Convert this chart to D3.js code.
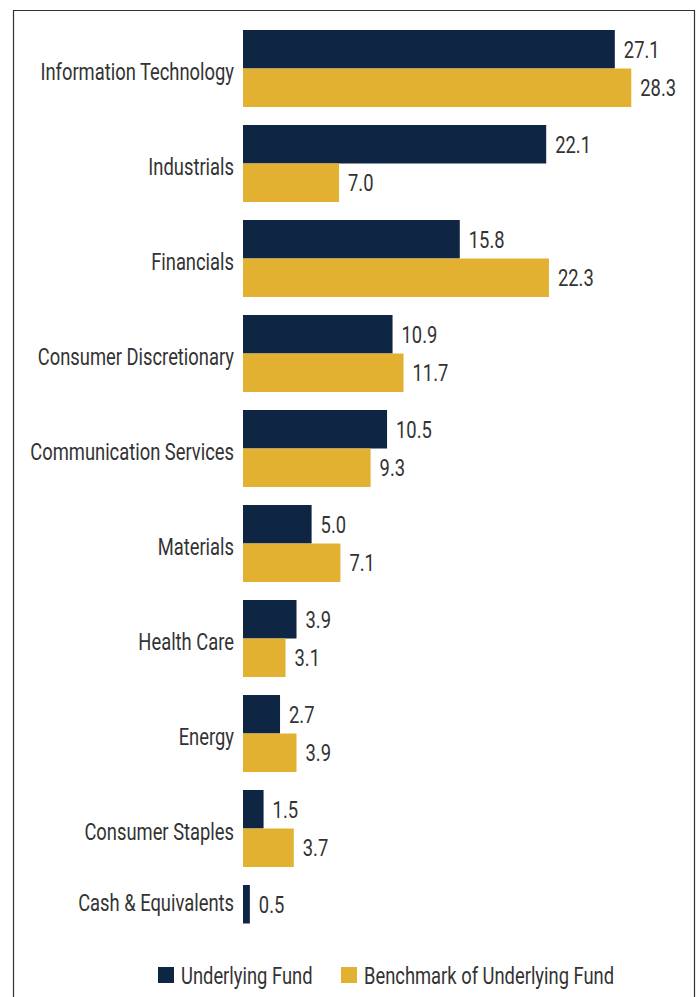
<!DOCTYPE html>
<html>
<head>
<meta charset="utf-8">
<script src="https://cdn.jsdelivr.net/npm/d3@7"></script>
<style>
html, body { margin: 0; padding: 0; background: #fff; }
svg { display: block; }
text { font-family: Roboto, "Noto Sans", sans-serif; fill: #333; }
</style>
</head>
<body>
<div id="chart"></div>
<script>
var categories = ['Information Technology', 'Industrials', 'Financials', 'Consumer Discretionary',
	'Communication Services', 'Materials', 'Health Care', 'Energy', 'Consumer Staples', 'Cash & Equivalents'];
var fundValues = [27.1, 22.1, 15.8, 10.9, 10.5, 5.0, 3.9, 2.7, 1.5, 0.5];
var benchValues = [28.3, 7.0, 22.3, 11.7, 9.3, 7.1, 3.1, 3.9, 3.7, null];
var seriesNames = ['Underlying Fund', 'Benchmark of Underlying Fund'];
var seriesColors = ['#0e2544', '#e3b131'];

var width = 699, height = 997;
var fontSize = 24, squeeze = 0.765; // condensed look from a regular face
var svg = d3.select('#chart').append('svg')
	.attr('width', width)
	.attr('height', height);

// frame (open at the bottom)
svg.append('path')
	.attr('d', 'M13.5,' + height + 'V10.5H694.5V' + height)
	.attr('fill', 'none')
	.attr('stroke', '#333')
	.attr('stroke-width', 1.2);

var x = d3.scaleLinear().domain([0, 30]).range([243, 243 + 30 * 13.72]);
var y = d3.scaleBand().domain(categories).range([30, 962]).paddingInner(18 / 95).paddingOuter(0);
var ySub = d3.scaleBand().domain([0, 1]).range([0, y.bandwidth()]);

function label(sel, px, py, anchor, txt) {
	sel.append('g')
		.attr('transform', function(d) { return 'translate(' + px(d) + ',' + py(d) + ') scale(' + squeeze + ',1)'; })
		.append('text')
		.attr('dy', '0.36em')
		.attr('text-anchor', anchor)
		.attr('font-size', fontSize)
		.text(txt);
}

var rows = categories.map(function(c, i) {
	return { cat: c, vals: [fundValues[i], benchValues[i]] };
});

var group = svg.selectAll('.group')
	.data(rows)
	.enter()
	.append('g')
	.attr('class', 'group')
	.attr('transform', function(d) { return 'translate(0,' + y(d.cat) + ')'; });

label(group, function() { return 234; }, function(d) {
	var n = d.vals.filter(function(v) { return v != null; }).length;
	return n == 2 ? y.bandwidth() / 2 + 2.5 : ySub.bandwidth() / 2 - 2;
}, 'end', function(d) { return d.cat; });

var bar = group.selectAll('.bar')
	.data(function(d) {
		return d.vals.map(function(v, j) { return { v: v, j: j }; }).filter(function(e) { return e.v != null; });
	})
	.enter()
	.append('g')
	.attr('class', 'bar');

bar.append('rect')
	.attr('x', x(0))
	.attr('y', function(d) { return ySub(d.j); })
	.attr('width', function(d) { return x(d.v) - x(0); })
	.attr('height', ySub.bandwidth())
	.attr('fill', function(d) { return seriesColors[d.j]; });

label(bar, function(d) { return x(d.v) + 9; }, function(d) { return ySub(d.j) + ySub.bandwidth() / 2; },
	'start', function(d) { return d3.format('.1f')(d.v); });

// legend
var legendX = [158, 341];
var legend = svg.selectAll('.legend')
	.data(seriesNames)
	.enter()
	.append('g')
	.attr('class', 'legend')
	.attr('transform', function(d, i) { return 'translate(' + legendX[i] + ',967)'; });
legend.append('rect')
	.attr('width', 16)
	.attr('height', 16)
	.attr('fill', function(d, i) { return seriesColors[i]; });
label(legend, function() { return 23; }, function() { return 8; }, 'start', function(d) { return d; });
</script>
</body>
</html>
